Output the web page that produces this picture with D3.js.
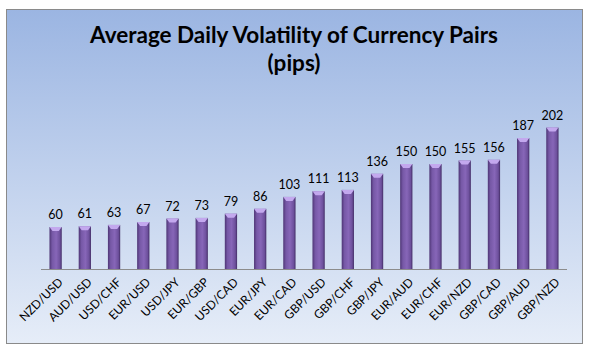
<!DOCTYPE html>
<html><head><meta charset="utf-8">
<script src="https://cdn.jsdelivr.net/npm/d3@7/dist/d3.min.js"></script>
<style>html,body{margin:0;padding:0;background:#fff;}svg{display:block;}</style>
</head><body>
<svg id="c" width="590" height="356"></svg>
<script>
const categories = ["NZD/USD","AUD/USD","USD/CHF","EUR/USD","USD/JPY","EUR/GBP","USD/CAD","EUR/JPY","EUR/CAD","GBP/USD","GBP/CHF","GBP/JPY","EUR/AUD","EUR/CHF","EUR/NZD","GBP/CAD","GBP/AUD","GBP/NZD"];
const values = [60,61,63,67,72,73,79,86,103,111,113,136,150,150,155,156,187,202];
const titleLines = ["Average Daily Volatility of Currency Pairs","(pips)"];

const svg = d3.select("#c");
const defs = svg.append("defs");
const bg = defs.append("linearGradient").attr("id","bg").attr("x1",0).attr("y1",0).attr("x2",0).attr("y2",1);
bg.append("stop").attr("offset","0%").attr("stop-color","#9bb5e2");
bg.append("stop").attr("offset","100%").attr("stop-color","#e6edf8");
const bar = defs.append("linearGradient").attr("id","bar").attr("x1",0).attr("y1",0).attr("x2",1).attr("y2",0);
bar.append("stop").attr("offset","0%").attr("stop-color","#4e3575");
bar.append("stop").attr("offset","22%").attr("stop-color","#7658a6");
bar.append("stop").attr("offset","55%").attr("stop-color","#8766b8");
bar.append("stop").attr("offset","85%").attr("stop-color","#6d509c");
bar.append("stop").attr("offset","100%").attr("stop-color","#432d66");

svg.append("rect").attr("x",6.5).attr("y",9.5).attr("width",576).attr("height",334)
  .attr("fill","url(#bg)").attr("stroke","#8a8a8a").attr("stroke-width",1);

const x = d3.scaleBand().domain(categories).range([41,567]).paddingInner(0.58).paddingOuter(0.29);
const y = d3.scaleLinear().domain([0,250]).range([269,94]);

svg.append("g").selectAll("text").data(titleLines).join("text")
  .attr("x",294).attr("y",(d,i)=>43+i*28).attr("text-anchor","middle")
  .attr("font-family","Lato, 'Open Sans', sans-serif").attr("font-weight","bold")
  .attr("font-size",22.5).attr("fill","#000").text(d=>d);

const g = svg.append("g");
g.selectAll("rect.b").data(values).join("rect").attr("class","b")
  .attr("x",(d,i)=>x(categories[i])).attr("width",x.bandwidth())
  .attr("y",d=>y(d)).attr("height",d=>y(0)-y(d)).attr("fill","url(#bar)");
g.selectAll("path.cap").data(values).join("path").attr("class","cap")
  .attr("d",(d,i)=>{const x0=x(categories[i]),w=x.bandwidth(),t=y(d);
    return `M${x0},${t}L${x0+w},${t}L${x0+w-3},${t+4}L${x0+3},${t+4}Z`;})
  .attr("fill","#c3a8ee");

svg.append("line").attr("x1",41).attr("x2",567).attr("y1",269.5).attr("y2",269.5)
  .attr("stroke","#8c8c8c").attr("stroke-width",1);

svg.append("g").selectAll("text").data(values).join("text")
  .attr("x",(d,i)=>x(categories[i])+x.bandwidth()/2).attr("y",d=>y(d)-8)
  .attr("text-anchor","middle").attr("font-family","Lato, 'Open Sans', sans-serif")
  .attr("font-size",12.5).attr("fill","#000").text(d=>d);

svg.append("g").selectAll("text").data(categories).join("text")
  .attr("transform",d=>`translate(${x(d)+x.bandwidth()/2+5},${280}) rotate(-45)`)
  .attr("text-anchor","end").attr("dy","0.35em").attr("font-family","Lato, 'Open Sans', sans-serif")
  .attr("font-size",12).attr("fill","#000").text(d=>d);
</script>
</body></html>
